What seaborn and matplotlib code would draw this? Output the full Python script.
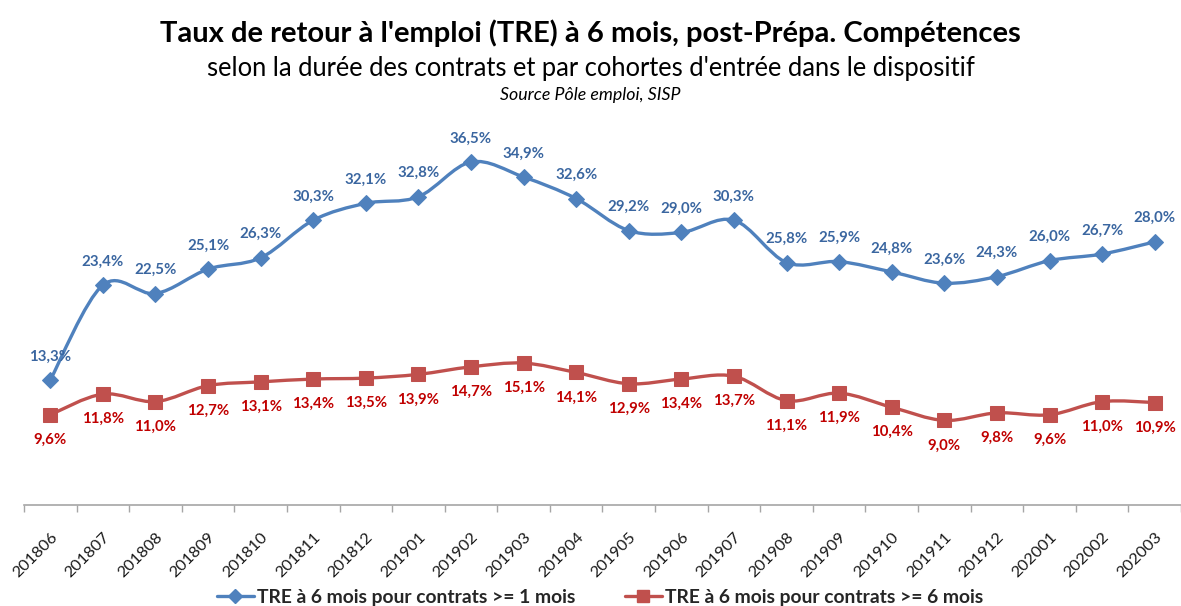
import numpy as np
import pandas as pd
import matplotlib
matplotlib.use("Agg")
import matplotlib.pyplot as plt
from matplotlib.path import Path
from matplotlib.patches import PathPatch
from matplotlib.lines import Line2D
import seaborn as sns

# Data
cohortes = ['201806', '201807', '201808', '201809', '201810', '201811', '201812',
            '201901', '201902', '201903', '201904', '201905', '201906', '201907',
            '201908', '201909', '201910', '201911', '201912', '202001', '202002',
            '202003']
tre_1mois = [13.3, 23.4, 22.5, 25.1, 26.3, 30.3, 32.1, 32.8, 36.5, 34.9, 32.6,
             29.2, 29.0, 30.3, 25.8, 25.9, 24.8, 23.6, 24.3, 26.0, 26.7, 28.0]
tre_6mois = [9.6, 11.8, 11.0, 12.7, 13.1, 13.4, 13.5, 13.9, 14.7, 15.1, 14.1,
             12.9, 13.4, 13.7, 11.1, 11.9, 10.4, 9.0, 9.8, 9.6, 11.0, 10.9]
label_1 = 'TRE à 6 mois pour contrats >= 1 mois'
label_6 = 'TRE à 6 mois pour contrats >= 6 mois'

df = pd.DataFrame({'pos': np.arange(len(cohortes)), 'cohorte': cohortes,
                   'tre1': tre_1mois, 'tre6': tre_6mois})

sns.set_theme(style="white")
plt.rcParams['font.family'] = ['Lato', 'DejaVu Sans']

blue = '#4F81BD'
blue_txt = '#3A66A0'
red = '#C0504D'
red_txt = '#C00000'


def smooth_path(x, y):
    # Excel-like smoothed line: cubic Bezier through every point
    pts = np.column_stack([x, y]).astype(float)
    verts = [tuple(pts[0])]
    codes = [Path.MOVETO]
    n = len(pts)
    for i in range(n - 1):
        p0 = pts[max(i - 1, 0)]
        p1 = pts[i]
        p2 = pts[i + 1]
        p3 = pts[min(i + 2, n - 1)]
        c1 = p1 + (p2 - p0) / 6.0
        c2 = p2 - (p3 - p1) / 6.0
        verts += [tuple(c1), tuple(c2), tuple(p2)]
        codes += [Path.CURVE4] * 3
    return Path(verts, codes)


fig = plt.figure(figsize=(11.81, 6.06), dpi=100)
ax = fig.add_axes([0.0203, 0.1667, 0.9797, 0.6203])

for col, color, marker, ms in [('tre1', blue, 'D', 8.5), ('tre6', red, 's', 9.5)]:
    ax.add_patch(PathPatch(smooth_path(df['pos'], df[col]), facecolor='none',
                           edgecolor=color, lw=2.4, zorder=2))
    sns.lineplot(data=df, x='pos', y=col, ax=ax, marker=marker, markersize=ms,
                 color=color, linestyle='', markeredgecolor=color, zorder=3)

for x, v in zip(df['pos'], df['tre1']):
    ax.annotate(f"{v:.1f}%".replace('.', ','), (x, v), xytext=(0, 17),
                textcoords='offset points', ha='center', va='center',
                fontsize=10.8, fontweight='bold', color=blue_txt)
for x, v in zip(df['pos'], df['tre6']):
    ax.annotate(f"{v:.1f}%".replace('.', ','), (x, v), xytext=(0, -18),
                textcoords='offset points', ha='center', va='center',
                fontsize=10.8, fontweight='bold', color=red_txt)

ax.set_xlim(-0.5, len(cohortes) - 0.5)
ax.set_ylim(0, 40)
ax.set_yticks([])
ax.set_xticks(df['pos'])
ax.set_xticklabels(cohortes, rotation=45, ha='right', rotation_mode='anchor',
                   fontsize=11.8, color='#1a1a1a')
ax.set_xticks(np.arange(len(cohortes) + 1) - 0.5, minor=True)
ax.tick_params(axis='x', which='major', length=0, pad=18)
ax.tick_params(axis='x', which='minor', length=5, width=1, color='#A6A6A6',
               bottom=True)
ax.set_xlabel('')
ax.set_ylabel('')
for s in ['top', 'left', 'right']:
    ax.spines[s].set_visible(False)
ax.spines['bottom'].set_color('#A6A6A6')
ax.spines['bottom'].set_linewidth(1.2)

fig.text(0.5, 0.946, "Taux de retour à l'emploi (TRE) à 6 mois, post-Prépa. Compétences",
         ha='center', va='center', fontsize=21, fontweight='bold', color='black')
fig.text(0.5, 0.887, "selon la durée des contrats et par cohortes d'entrée dans le dispositif",
         ha='center', va='center', fontsize=18.4, color='black')
fig.text(0.5, 0.843, "Source Pôle emploi, SISP", ha='center', va='center',
         fontsize=12.8, fontstyle='italic', color='black')

handles = [Line2D([], [], color=blue, lw=2.4, marker='D', markersize=7),
           Line2D([], [], color=red, lw=2.4, marker='s', markersize=8.5)]
leg = fig.legend(handles, [label_1, label_6], loc='center', ncol=2,
                 bbox_to_anchor=(0.508, 0.014), frameon=False, fontsize=13.9,
                 handlelength=1.9, columnspacing=2.6, handletextpad=0.15)
for t in leg.get_texts():
    t.set_fontweight('bold')

fig.savefig('out.png', dpi=100)
